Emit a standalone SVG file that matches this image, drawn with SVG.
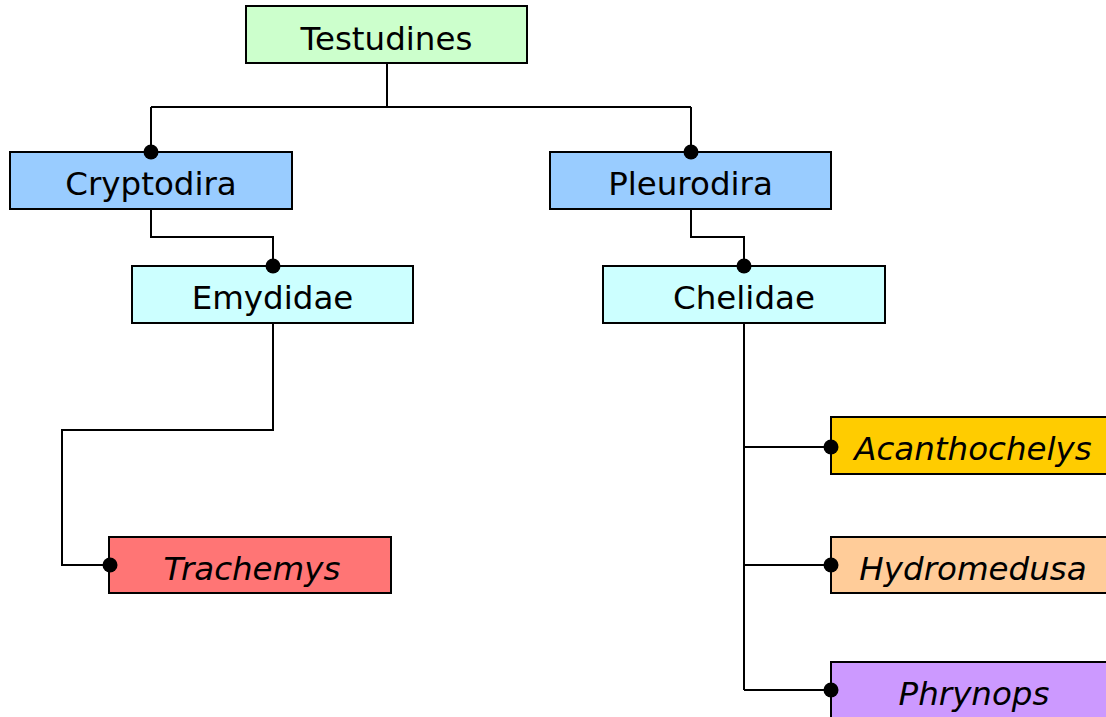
<svg xmlns="http://www.w3.org/2000/svg" width="1106" height="717" viewBox="0 0 1106 717">
<style>
.box{stroke:#000;stroke-width:2}
.lbl{font-family:"DejaVu Sans",Verdana,sans-serif;font-size:32.5px;fill:#000;text-anchor:middle}
.it{font-style:italic}
.ln{fill:none;stroke:#000;stroke-width:2}
.dot{fill:#000}
</style>
<rect width="1106" height="717" fill="#fff"/>
<g id="testudines"><rect class="box" x="246" y="6" width="281" height="57" fill="#CCFFCC"/><text class="lbl" x="386.5" y="50">Testudines</text></g>
<g id="cryptodira"><rect class="box" x="10" y="152" width="282" height="57" fill="#99CCFF"/><text class="lbl" x="151" y="195">Cryptodira</text></g>
<g id="pleurodira"><rect class="box" x="550" y="152" width="281" height="57" fill="#99CCFF"/><text class="lbl" x="690.5" y="195">Pleurodira</text></g>
<g id="emydidae"><rect class="box" x="132" y="266" width="281" height="57" fill="#CCFFFF"/><text class="lbl" x="272.5" y="309">Emydidae</text></g>
<g id="chelidae"><rect class="box" x="603" y="266" width="282" height="57" fill="#CCFFFF"/><text class="lbl" x="744" y="309">Chelidae</text></g>
<g id="trachemys"><rect class="box" x="109" y="537" width="282" height="56" fill="#FF7575"/><text class="lbl it" x="252" y="580">Trachemys</text></g>
<g id="acanthochelys"><rect class="box" x="831" y="417" width="284" height="57" fill="#FFCC00"/><text class="lbl it" x="973" y="460">Acanthochelys</text></g>
<g id="hydromedusa"><rect class="box" x="831" y="537" width="284" height="56" fill="#FFCC99"/><text class="lbl it" x="973" y="580">Hydromedusa</text></g>
<g id="phrynops"><rect class="box" x="831" y="662" width="284" height="57" fill="#CC99FF"/><text class="lbl it" x="974" y="705">Phrynops</text></g>
<g id="connectors">
<path class="ln" d="M387,63 V107 M151,107 H691 M151,107 V152 M691,107 V152"/>
<path class="ln" d="M151,209 V237 H273 V266"/>
<path class="ln" d="M691,209 V237 H744 V266"/>
<path class="ln" d="M273,323 V430 H62 V565 H108"/>
<path class="ln" d="M744,323 V690 M744,447 H831 M744,565 H831 M744,690 H831"/>
<circle class="dot" cx="151" cy="152" r="7.5"/>
<circle class="dot" cx="691" cy="152" r="7.5"/>
<circle class="dot" cx="273" cy="266" r="7.5"/>
<circle class="dot" cx="744" cy="266" r="7.5"/>
<circle class="dot" cx="110" cy="565" r="7.5"/>
<circle class="dot" cx="831" cy="447" r="7.5"/>
<circle class="dot" cx="831" cy="565" r="7.5"/>
<circle class="dot" cx="831" cy="690" r="7.5"/>
</g>
</svg>
